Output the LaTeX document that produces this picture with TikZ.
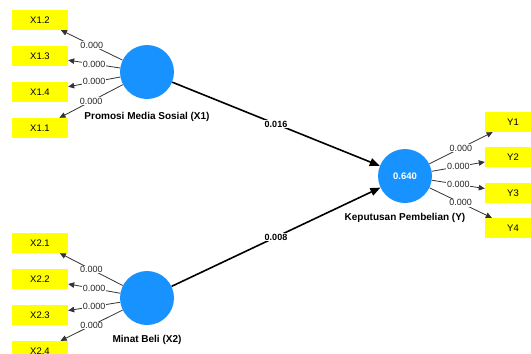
\documentclass[tikz,border=0pt]{standalone}
\usepackage{fontspec}
\setmainfont{Liberation Sans}
\usetikzlibrary{arrows.meta}
\definecolor{lvblue}{RGB}{24,146,255}
\definecolor{mvyellow}{RGB}{255,255,0}
\tikzset{
  lv/.style={circle, fill=lvblue, draw=none, minimum size=54pt, inner sep=0pt, text=white, font=\fontsize{9.5}{10}\selectfont\bfseries},
  mv/.style={rectangle, fill=mvyellow, draw=none, minimum width=56pt, minimum height=20pt, inner sep=0pt, font=\fontsize{9.5}{10}\selectfont},
  lvname/.style={font=\fontsize{10}{11}\selectfont\bfseries, inner sep=0pt},
  outarrow/.style={draw=black!80, line width=0.8pt, -{Triangle[length=6pt,width=5.5pt]}},
  patharrow/.style={draw=black, line width=1.6pt, -{Triangle[length=10pt,width=8pt]}},
  lbl/.style={fill=white, inner sep=0.6pt, font=\fontsize{9}{9}\selectfont, text=black!85},
  plbl/.style={fill=white, inner sep=0.8pt, font=\fontsize{9}{9}\selectfont\bfseries},
}
\begin{document}
\begin{tikzpicture}[x=1pt,y=-1pt]
\useasboundingbox (0,0) rectangle (531,354);
% latent variables
\node[lv] (x1) at (147,72) {};
\node[lv] (x2) at (147,298) {};
\node[lv] (y) at (405,176) {0.640};
\node[lvname] (x1n) at (147,117) {Promosi Media Sosial (X1)};
\node[lvname] (x2n) at (147,340) {Minat Beli (X2)};
\node[lvname] (yn) at (405,218) {Keputusan Pembelian (Y)};
% indicators X1
\node[mv] (b12) at (40,20) {X1.2};
\node[mv] (b13) at (40,56) {X1.3};
\node[mv] (b14) at (40,92) {X1.4};
\node[mv] (b11) at (40,128) {X1.1};
% indicators X2
\node[mv] (b21) at (40,243) {X2.1};
\node[mv] (b22) at (40,279) {X2.2};
\node[mv] (b23) at (40,315) {X2.3};
\node[mv] (b24) at (40,351) {X2.4};
% indicators Y
\node[mv] (y1) at (513,122) {Y1};
\node[mv] (y2) at (513,157) {Y2};
\node[mv] (y3) at (513,193) {Y3};
\node[mv] (y4) at (513,228) {Y4};
% outer loadings
\draw[outarrow] (x1) -- node[lbl]{0.000} (b12);
\draw[outarrow] (x1) -- node[lbl]{0.000} (b13);
\draw[outarrow] (x1) -- node[lbl]{0.000} (b14);
\draw[outarrow] (x1) -- node[lbl]{0.000} (b11);
\draw[outarrow] (x2) -- node[lbl]{0.000} (b21);
\draw[outarrow] (x2) -- node[lbl]{0.000} (b22);
\draw[outarrow] (x2) -- node[lbl]{0.000} (b23);
\draw[outarrow] (x2) -- node[lbl]{0.000} (b24);
\draw[outarrow] (y) -- node[lbl]{0.000} (y1);
\draw[outarrow] (y) -- node[lbl]{0.000} (y2);
\draw[outarrow] (y) -- node[lbl]{0.000} (y3);
\draw[outarrow] (y) -- node[lbl]{0.000} (y4);
% paths
\draw[patharrow] (x1) -- node[plbl]{0.016} (y);
\draw[patharrow] (x2) -- node[plbl]{0.008} (y);
\end{tikzpicture}
\end{document}
